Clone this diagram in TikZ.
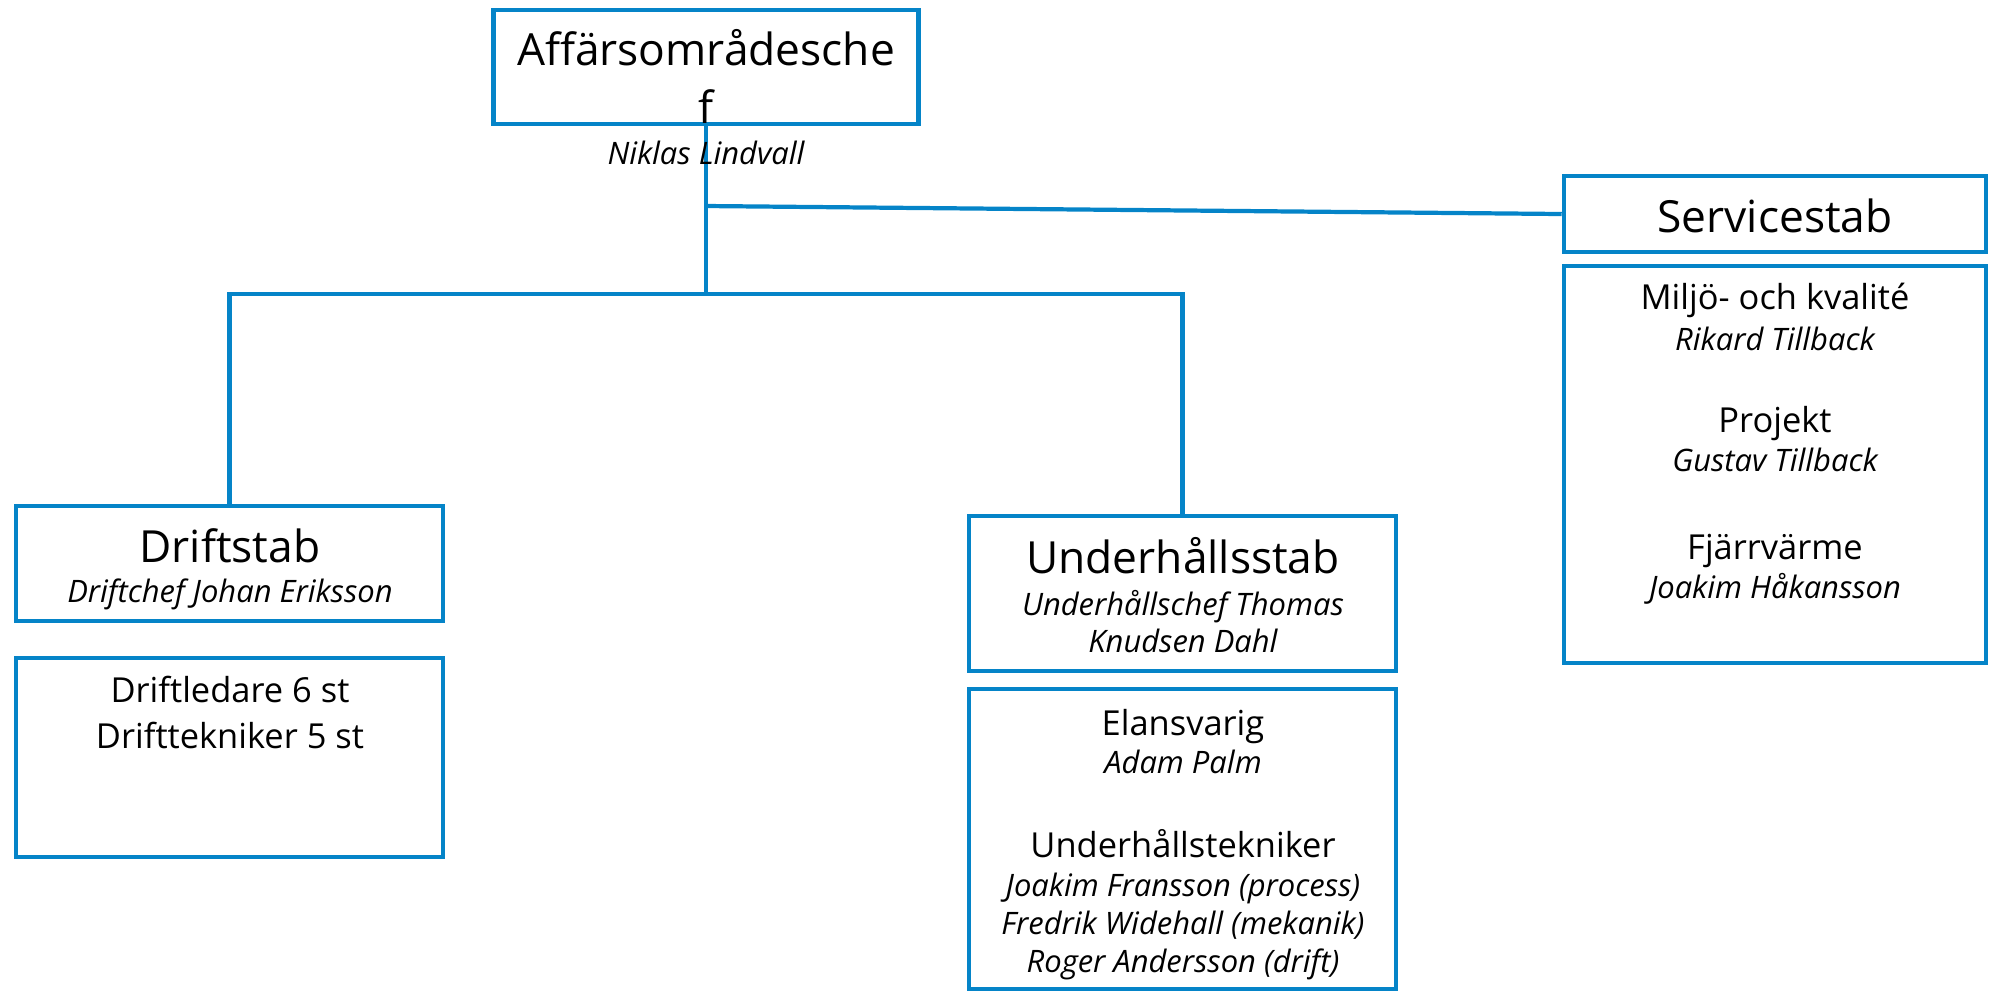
\documentclass[tikz,border=0pt]{standalone}
\usepackage{fontspec}
\setmainfont{Open Sans}
\usepackage{tikz}
\definecolor{orgblue}{HTML}{0584C8}

\begin{document}
\begin{tikzpicture}[x=0.1mm,y=-0.1mm,
    orgbox/.style={draw=orgblue, line width=1.3pt, inner sep=0pt},
    orgline/.style={orgblue, line width=1.2pt},
    unit/.style={anchor=base, inner sep=0pt, font=\fontsize{12.6}{14}\selectfont},
    role/.style={anchor=base, inner sep=0pt, font=\fontsize{9.8}{12}\selectfont},
    person/.style={anchor=base, inner sep=0pt, font=\fontsize{8.8}{10}\selectfont\itshape}]
  \useasboundingbox (0,0) rectangle (1990,991);
  % boxes
  \node[orgbox, minimum width=42.5mm, minimum height=11.4mm] (chief) at (706,67) {};
  \node[orgbox, minimum width=42.2mm, minimum height=7.6mm] (svchead) at (1775,214) {};
  \node[orgbox, minimum width=42.2mm, minimum height=39.7mm] (svclist) at (1775,464.5) {};
  \node[orgbox, minimum width=42.7mm, minimum height=11.5mm] (drifthead) at (229.5,563.5) {};
  \node[orgbox, minimum width=42.7mm, minimum height=19.9mm] (driftlist) at (229.5,757.5) {};
  \node[orgbox, minimum width=42.7mm, minimum height=15.5mm] (uhhead) at (1182.5,593.5) {};
  \node[orgbox, minimum width=42.7mm, minimum height=30mm] (uhlist) at (1182.5,839) {};
  % connectors
  \coordinate (fork) at (706,294);
  \coordinate (svcjoin) at (706,206);
  \draw[orgline] (chief.south) -- (fork);
  \draw[orgline] (drifthead.north) |- (fork) -| (uhhead.north);
  \draw[orgline] (svcjoin) -- (svchead.west);
  % texts
  \node[unit] (chieftitle) at (706,65) {Affärsområdesche};
  \node[unit] (chieftail) at (706,123) {f};
  \node[person] (chiefname) at (706,164) {Niklas Lindvall};
  \node[unit] (svctitle) at (1775,232) {Servicestab};
  \node[role] (miljo) at (1775,309) {Miljö- och kvalité};
  \node[person] (miljoname) at (1775,350) {Rikard Tillback};
  \node[role] (projekt) at (1775,432) {Projekt};
  \node[person] (projektname) at (1775,471) {Gustav Tillback};
  \node[role] (fjv) at (1775,559) {Fjärrvärme};
  \node[person] (fjvname) at (1775,598) {Joakim Håkansson};
  \node[unit] (drifttitle) at (230,562) {Driftstab};
  \node[person] (driftchef) at (230,602) {Driftchef Johan Eriksson};
  \node[role] (driftledare) at (230,702) {Driftledare 6 st};
  \node[role] (drifttekn) at (230,748) {Drifttekniker 5 st};
  \node[unit] (uhtitle) at (1183,573) {Underhållsstab};
  \node[person] (uhchef) at (1183,615) {Underhållschef Thomas};
  \node[person] (uhchefb) at (1183,652) {Knudsen Dahl};
  \node[role] (elan) at (1183,735) {Elansvarig};
  \node[person] (elanname) at (1183,773) {Adam Palm};
  \node[role] (uhtekn) at (1183,857) {Underhållstekniker};
  \node[person] (teknproc) at (1183,896) {Joakim Fransson (process)};
  \node[person] (teknmek) at (1183,934) {Fredrik Widehall (mekanik)};
  \node[person] (tekndrift) at (1183,972) {Roger Andersson (drift)};
\end{tikzpicture}
\end{document}
